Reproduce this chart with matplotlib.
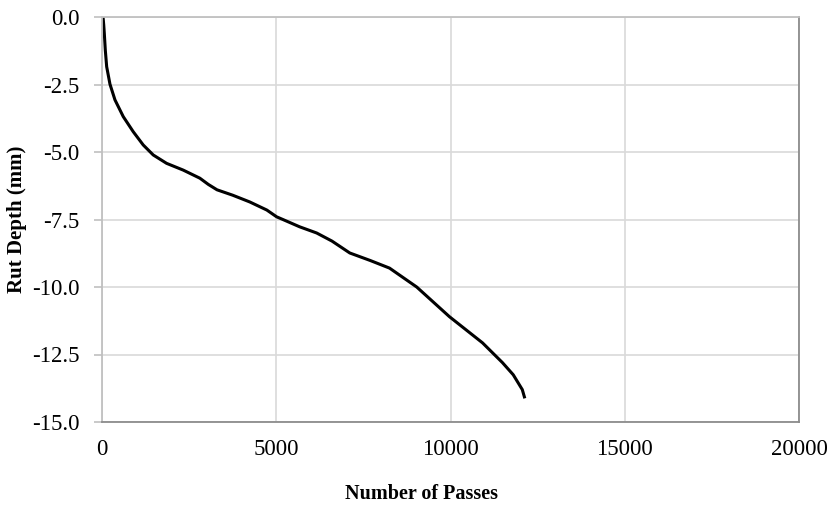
import numpy as np
import matplotlib.pyplot as plt

# rut depth curve
passes = [30, 50, 66, 95, 134, 229, 372, 610, 897, 1183, 1470, 1853, 2330,
          2808, 3050, 3300, 3750, 4240, 4730, 5010, 5190, 5670, 6160, 6600,
          7110, 7700, 8250, 9030, 9970, 10920, 11490, 11800, 12060, 12120]
rut = [0.0, -0.3, -0.6, -1.23, -1.84, -2.49, -3.07, -3.69, -4.25, -4.74,
       -5.11, -5.42, -5.67, -5.97, -6.2, -6.4, -6.6, -6.85, -7.15, -7.4,
       -7.5, -7.77, -8.0, -8.3, -8.74, -9.02, -9.3, -10.0, -11.1, -12.07,
       -12.8, -13.25, -13.8, -14.07]

x_ticks = [0, 5000, 10000, 15000, 20000]
y_ticks = [0.0, -2.5, -5.0, -7.5, -10.0, -12.5, -15.0]

plt.rcParams['font.family'] = ['Liberation Serif', 'DejaVu Serif']

fig = plt.figure(figsize=(8.31, 5.07), dpi=100)
ax = fig.add_axes([102 / 831, 1 - 422 / 507, 697 / 831, 405 / 507])

ax.plot(passes, rut, color='black', lw=2.2, solid_joinstyle='round')

ax.set_xlim(0, 20000)
ax.set_ylim(-15, 0)
ax.set_xticks(x_ticks)
ax.set_yticks(y_ticks)
ax.set_yticklabels(['%.1f' % v for v in y_ticks])
ax.grid(True, color='#d9d9d9', lw=1.2)
ax.set_axisbelow(True)

ax.spines['top'].set_color('#c0c0c0')
ax.spines['left'].set_color('#c0c0c0')
ax.spines['bottom'].set_color('#8c8c8c')
ax.spines['right'].set_color('#8c8c8c')
for s in ax.spines.values():
    s.set_linewidth(1.3)

ax.tick_params(axis='x', length=0, pad=12, labelsize=16.5)
ax.tick_params(axis='y', length=6, color='#c0c0c0', width=1.2, pad=10, labelsize=16.5)

ax.set_xlabel('Number of Passes', fontsize=14.5, fontweight='bold')
ax.xaxis.set_label_coords(0.459, -0.152)
ax.set_ylabel('Rut Depth (mm)', fontsize=15, fontweight='bold', labelpad=4)

fig.savefig('out.png', dpi=100)
